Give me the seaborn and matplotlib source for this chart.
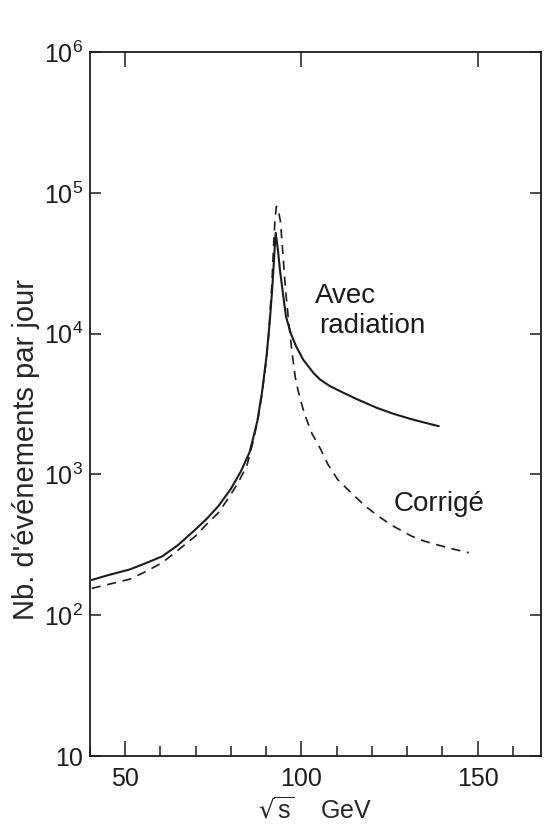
import numpy as np
import pandas as pd
import matplotlib
matplotlib.use("Agg")
import matplotlib.pyplot as plt
import matplotlib.ticker as mticker
import seaborn as sns

# --- values ---
# "Avec radiation" (solid)
sqrt_s_rad = [40.5, 45.0, 51.2, 56.0, 60.5, 65.0, 69.9, 73.0, 76.4, 80.0, 82.9,
              84.0, 85.3, 86.4, 87.5, 88.8, 90.1, 91.0, 91.7, 92.3, 92.7, 93.3,
              94.0, 94.8, 95.6, 97.0, 98.5, 100.5, 103.4, 105.3, 108.0, 111.9,
              116.0, 121.4, 126.0, 130.9, 135.0, 139.0]
n_rad = [178, 192, 211, 235, 262, 315, 406, 480, 594, 790, 1060,
         1220, 1440, 1850, 2400, 3800, 6900, 12000, 20500, 36000, 51900, 40000,
         27100, 19000, 13300, 10000, 8130, 6530, 5260, 4720, 4250, 3800,
         3400, 2970, 2700, 2480, 2330, 2200]

# "Corrigé" (dashed)
sqrt_s_corr = [40.5, 45.0, 51.2, 56.0, 60.5, 65.0, 69.9, 73.0, 76.4, 79.5, 82.0,
               84.5, 86.0, 87.6, 88.8, 89.8, 90.6, 91.1, 91.6, 92.1, 92.5, 92.9,
               93.4, 94.0, 94.5, 95.0, 95.5, 96.4, 97.3, 98.2, 99.0, 99.7, 100.6,
               101.6, 103.0, 104.2, 105.4, 107.5, 110.3, 114.1, 118.0, 121.8,
               126.0, 131.3, 135.0, 138.8, 143.0, 147.5]
n_corr = [155, 165, 180, 205, 236, 290, 364, 440, 533, 690, 871,
          1150, 1600, 2400, 3700, 5800, 9000, 14000, 22000, 42000, 65000, 80000,
          76000, 64000, 45000, 30000, 20500, 12000, 7500, 5000, 4000, 3400, 2850,
          2400, 1950, 1720, 1520, 1180, 920, 740, 600, 505,
          430, 364, 335, 315, 295, 278]

x_major = [50, 100, 150]
x_labels = ["50", "100", "150"]
y_ticks = [10, 1e2, 1e3, 1e4, 1e5, 1e6]
y_labels = ["10", r"$\mathdefault{10^{2}}$", r"$\mathdefault{10^{3}}$",
            r"$\mathdefault{10^{4}}$", r"$\mathdefault{10^{5}}$", r"$\mathdefault{10^{6}}$"]

ink = "#1c1c1c"

sns.set_style("ticks")
plt.rcParams["font.family"] = ["Liberation Sans", "DejaVu Sans"]
plt.rcParams["axes.edgecolor"] = ink
plt.rcParams["text.color"] = ink

rad = pd.DataFrame({"sqrt_s": sqrt_s_rad, "n": n_rad})
corr = pd.DataFrame({"sqrt_s": sqrt_s_corr, "n": n_corr})

fig = plt.figure(figsize=(5.49, 8.32), dpi=100)
ax = fig.add_axes([90 / 549, 1 - 756 / 832, 451 / 549, (756 - 52) / 832])

sns.lineplot(data=rad, x="sqrt_s", y="n", ax=ax, color=ink, linewidth=1.5,
             sort=False, estimator=None)
sns.lineplot(data=corr, x="sqrt_s", y="n", ax=ax, color=ink, linewidth=1.2,
             sort=False, estimator=None, dashes=False, linestyle=(0, (5.5, 4)))

ax.set_yscale("log")
ax.set_xlim(40, 168)
ax.set_ylim(10, 1e6)

ax.yaxis.set_major_locator(mticker.FixedLocator(y_ticks))
ax.yaxis.set_major_formatter(mticker.FixedFormatter(y_labels))
ax.yaxis.set_minor_locator(mticker.NullLocator())
ax.xaxis.set_major_locator(mticker.FixedLocator(x_major))
ax.xaxis.set_major_formatter(mticker.FixedFormatter(x_labels))
ax.xaxis.set_minor_locator(mticker.MultipleLocator(10))

ax.tick_params(axis="both", which="both", direction="in", colors=ink,
               labelsize=18, width=1.1)
ax.tick_params(axis="x", which="major", length=11, top=True, pad=8)
ax.tick_params(axis="x", which="minor", length=7, top=False)
ax.tick_params(axis="y", which="major", length=8, right=True, pad=5)

for side in ["left", "right", "top", "bottom"]:
    ax.spines[side].set_visible(True)
    ax.spines[side].set_linewidth(1.3)

ax.set_xlabel(r"$\sqrt{\mathdefault{s}}$    GeV", fontsize=18)
ax.xaxis.set_label_coords(0.5, -0.058)
ax.set_ylabel("Nb. d'événements par jour", fontsize=21)
ax.yaxis.set_label_coords(-0.11, 0.435)

ax.text(103.9, 16600, "Avec", fontsize=20, ha="left", va="baseline")
ax.text(105.0, 10150, "radiation", fontsize=20, ha="left", va="baseline")
ax.text(126.1, 546, "Corrigé", fontsize=20, ha="left", va="baseline")

fig.savefig("out.png", dpi=100)
